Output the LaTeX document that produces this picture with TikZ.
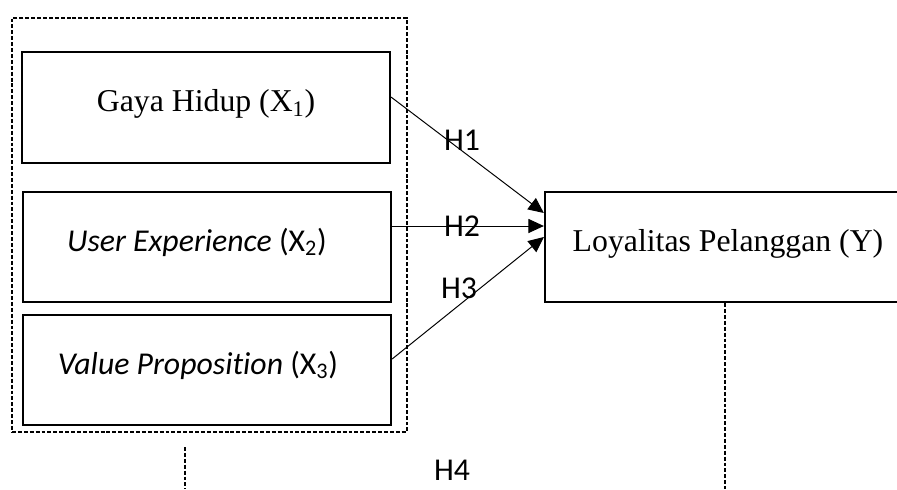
\documentclass[tikz,border=0pt]{standalone}
\usepackage{fontspec}
\setmainfont{Liberation Serif}
\newfontfamily\calibri[Ligatures=NoCommon]{Carlito}
\usepackage{tikz}
\usetikzlibrary{arrows.meta, positioning}
\tikzset{
    varBox/.style={rectangle, draw=black, line width=1.6pt, minimum width=9.2cm, minimum height=2.75cm, inner sep=0pt, text height=15pt, text depth=9pt, font=\fontsize{22.6}{26}\selectfont},
    groupBox/.style={rectangle, draw=black, line width=0.9pt, dash pattern=on 2.8pt off 1.4pt, minimum width=9.875cm, minimum height=10.35cm},
    hypLine/.style={-{Triangle[length=11pt, width=10pt]}, line width=0.7pt},
    modLine/.style={line width=0.9pt, dash pattern=on 2.8pt off 1.4pt},
    hypLabel/.style={font=\calibri\fontsize{22.6}{26}\selectfont, inner sep=0pt}
}

\begin{document}
\begin{tikzpicture}
    \useasboundingbox (0,0) rectangle (22.425,12.225);
    \clip (0,0) rectangle (22.425,12.225);
    % kotak variabel bebas
    \node[groupBox] (Grup) at (5.2375,6.6) {};
    \node[varBox, minimum height=2.775cm] (GayaHidup) at (5.15,9.5375) {Gaya Hidup (X\textsubscript{1})};
    \node[varBox] (UserExp) at (5.175,6.05) {\calibri\textit{User Experience} (X\textsubscript{2})\hspace*{0.5cm}};
    \node[varBox] (ValueProp) at (5.175,2.975) {\calibri\textit{Value Proposition} (X\textsubscript{3})\hspace*{0.45cm}};
    % variabel terikat
    \node[varBox, minimum width=9.15cm] (Loyalitas) at (18.2,6.05) {Loyalitas Pelanggan (Y)};
    % hipotesis
    \draw[hypLine] ([yshift=0.26cm]GayaHidup.east) -- ([yshift=0.85cm]Loyalitas.west);
    \draw[hypLine] ([yshift=0.525cm]UserExp.east) -- ([yshift=0.525cm]Loyalitas.west);
    \draw[hypLine] ([yshift=0.275cm]ValueProp.east) -- ([yshift=0.25cm]Loyalitas.west);
    \node[hypLabel] (LabelH1) at (11.55,8.725) {H1};
    \node[hypLabel] (LabelH2) at (11.55,6.575) {H2};
    \node[hypLabel] (LabelH3) at (11.475,5.025) {H3};
    \node[hypLabel] (LabelH4) at (11.3,0.47) {H4};
    % garis moderasi
    \coordinate (ModKiriAtas) at (4.625,1.05);
    \coordinate (ModKiriBawah) at (4.625,0);
    \coordinate (ModKananBawah) at (18.125,0);
    \draw[modLine] (ModKiriAtas) -- (ModKiriBawah);
    \draw[modLine] (Loyalitas.south -| ModKananBawah) -- (ModKananBawah);
\end{tikzpicture}
\end{document}
